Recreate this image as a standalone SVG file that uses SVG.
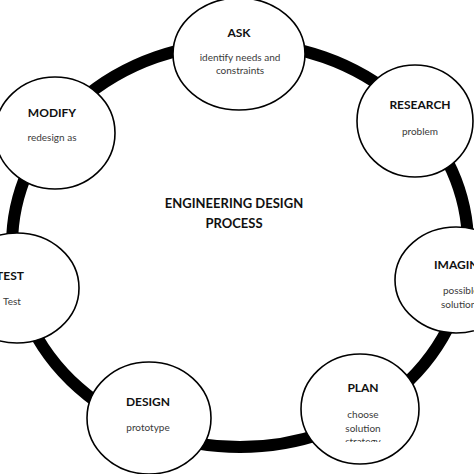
<svg xmlns="http://www.w3.org/2000/svg" width="474" height="474" viewBox="0 0 474 474">
<style>
.node{fill:#fff;stroke:#000;stroke-width:1.6}
.t{font-family:Lato,"Liberation Sans",sans-serif;font-weight:bold;font-size:12px;fill:#111;text-anchor:middle}
.s{font-family:Lato,"Liberation Sans",sans-serif;font-size:10px;fill:#3a3a3a;text-anchor:middle}
.c{font-family:Lato,"Liberation Sans",sans-serif;font-weight:bold;font-size:13px;fill:#111;text-anchor:middle}
</style>
<defs>
<clipPath id="planClip"><rect x="300" y="350" width="125" height="92"/></clipPath>
</defs>
<rect width="474" height="474" fill="#fff"/>
<g id="connectors">
<ellipse cx="240" cy="245" rx="228" ry="202" fill="none" stroke="#000" stroke-width="12"/>
</g>
<g id="title">
<text class="c" x="234" y="208">ENGINEERING DESIGN</text>
<text class="c" x="234" y="228">PROCESS</text>
</g>
<g id="ask">
<ellipse class="node" cx="239" cy="54" rx="66" ry="56"/>
<text class="t" x="239" y="37">ASK</text>
<text class="s" x="240" y="61">identify needs and</text>
<text class="s" x="240" y="74">constraints</text>
</g>
<g id="research">
<ellipse class="node" cx="415" cy="121" rx="58" ry="56"/>
<text class="t" x="420" y="109">RESEARCH</text>
<text class="s" x="420" y="135">problem</text>
</g>
<g id="imagine">
<ellipse class="node" cx="456" cy="280" rx="61" ry="53"/>
<text class="t" x="434" y="269" style="text-anchor:start">IMAGINE</text>
<text class="s" x="443" y="294" style="text-anchor:start">possible</text>
<text class="s" x="441" y="308" style="text-anchor:start">solutions</text>
</g>
<g id="plan">
<ellipse class="node" cx="360" cy="409" rx="59" ry="55"/>
<text class="t" x="363" y="392">PLAN</text>
<text class="s" x="363" y="418">choose</text>
<text class="s" x="363" y="432">solution</text>
<text class="s" x="363" y="444.5" clip-path="url(#planClip)">strategy</text>
</g>
<g id="design">
<ellipse class="node" cx="149" cy="418" rx="62" ry="56"/>
<text class="t" x="148" y="406">DESIGN</text>
<text class="s" x="148" y="431">prototype</text>
</g>
<g id="test">
<ellipse class="node" cx="17" cy="288" rx="62" ry="55"/>
<text class="t" x="24" y="280" style="text-anchor:end">TEST</text>
<text class="s" x="3" y="305" style="text-anchor:start">Test</text>
</g>
<g id="modify">
<ellipse class="node" cx="55" cy="133" rx="60" ry="56"/>
<text class="t" x="52" y="117">MODIFY</text>
<text class="s" x="52" y="141">redesign as</text>
</g>
</svg>
